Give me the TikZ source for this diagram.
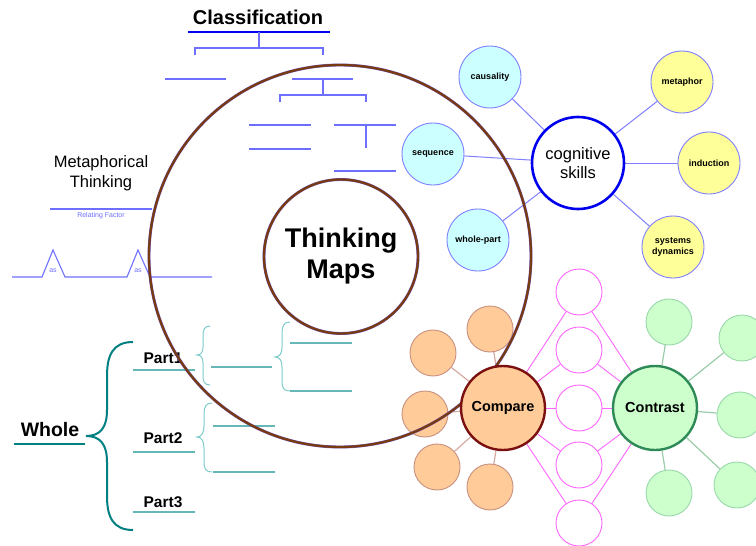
\documentclass[tikz,border=0pt]{standalone}
\usepackage{fontspec}
\setmainfont{Liberation Sans}
\definecolor{clb}{HTML}{6F6FFF}
\definecolor{clbd}{HTML}{0000EE}
\definecolor{satb}{HTML}{7F7FFF}
\definecolor{cyanf}{HTML}{CCFFFF}
\definecolor{yelf}{HTML}{FFFF99}
\definecolor{ringbr}{HTML}{7A3A10}
\definecolor{ringbl}{HTML}{6A5AC8}
\definecolor{pinkc}{HTML}{FF66FF}
\definecolor{orf}{HTML}{FFCC99}
\definecolor{orb}{HTML}{C89080}
\definecolor{ore}{HTML}{D8AAA4}
\definecolor{cmpb}{HTML}{7A1010}
\definecolor{grf}{HTML}{CCFFCC}
\definecolor{grb}{HTML}{99D8AA}
\definecolor{gre}{HTML}{9CCCAA}
\definecolor{conb}{HTML}{2E8B57}
\definecolor{tealA}{HTML}{008080}
\definecolor{tealB}{HTML}{66B8B8}
\definecolor{tealC}{HTML}{80CCCC}
\pgfdeclarelayer{back}
\pgfdeclarelayer{bg}
\pgfsetlayers{back,bg,main}
\tikzset{
  cl/.style={line width=1.2pt, color=clb},
  ml/.style={line width=1.1pt, color=clb},
  ring/.style={draw=ringbl, line width=0.35pt, double=ringbr, double distance=2.2pt},
  sat/.style={circle, draw=satb, line width=0.9pt, minimum size=62pt, inner sep=0pt, align=center, font=\bfseries\fontsize{9}{11}\selectfont},
  cyansat/.style={sat, fill=cyanf},
  yelsat/.style={sat, fill=yelf},
  cogc/.style={circle, draw=clbd, line width=2.6pt, minimum size=92pt, inner sep=0pt, align=center, fill=white, font=\fontsize{16.5}{19}\selectfont},
  cogedge/.style={line width=1pt, color=satb},
  pinkcirc/.style={circle, draw=pinkc, line width=0.9pt, minimum size=46pt, inner sep=0pt, fill=white},
  pinkedge/.style={line width=0.9pt, color=pinkc},
  orsat/.style={circle, draw=orb, line width=0.9pt, fill=orf, minimum size=46pt, inner sep=0pt},
  grsat/.style={circle, draw=grb, line width=0.9pt, fill=grf, minimum size=46pt, inner sep=0pt},
  oredge/.style={line width=1.2pt, color=ore},
  gredge/.style={line width=1.2pt, color=gre},
  bigc/.style={circle, line width=2.4pt, minimum size=84pt, inner sep=0pt, font=\bfseries\fontsize{14.5}{16}\selectfont},
  partlbl/.style={anchor=base, font=\bfseries\fontsize{15.5}{18}\selectfont},
  partline/.style={line width=1.3pt, color=tealB},
  smallbrace/.style={line width=1pt, color=tealC},
  tinytxt/.style={inner sep=0pt, text=clb, font=\fontsize{7}{8}\selectfont}
}
\begin{document}
\begin{tikzpicture}[x=1pt,y=-1pt]
\begin{pgfonlayer}{back}
\fill[white] (0,0) rectangle (756,546);
\end{pgfonlayer}
\useasboundingbox (0,0) rectangle (756,546);

% ---------- Classification ----------
\node[font=\bfseries\fontsize{20}{22}\selectfont] (cls) at (258,17) {Classification};
\draw[line width=2.6pt, color=clbd] (188,32) -- (330,32);
\draw[cl] (259,32) -- (259,48) (195,55) -- (195,48) -- (323,48) -- (323,55);
\draw[cl] (165,79) -- (226,79) (292,79) -- (353,79) (323,79) -- (323,95)
          (280,102) -- (280,95) -- (366,95) -- (366,102);
\draw[cl] (249,125) -- (311,125) (334,125) -- (396,125) (249,149) -- (311,149)
          (366,125) -- (366,148) (334,171) -- (396,171);

% ---------- Metaphorical Thinking ----------
\node[anchor=base, font=\fontsize{16.5}{20}\selectfont] (mt1) at (101,167) {Metaphorical};
\node[anchor=base, font=\fontsize{16.5}{20}\selectfont] (mt2) at (101,187) {Thinking};
\draw[ml] (50,209) -- (152,209);
\node[tinytxt] (rf) at (101,215.5) {Relating Factor};
\draw[ml] (12,277) -- (42,277) -- (53,250) -- (65,277) -- (127,277) -- (138,250) -- (150,277) -- (212,277);
\node[tinytxt] (as1) at (53,271) {as};
\node[tinytxt] (as2) at (138,271) {as};

% ---------- Whole / Parts ----------
\node[anchor=base, font=\bfseries\fontsize{19.5}{22}\selectfont] (wh) at (50,436) {Whole};
\draw[line width=2.2pt, color=tealA] (14,444) -- (85,444);
\draw[line width=2pt, color=tealA]
  (133,342) .. controls (113,342) and (107,355) .. (107,376) -- (107,410)
  .. controls (107,428) and (100,436) .. (86,436)
  .. controls (100,436) and (107,444) .. (107,462) -- (107,496)
  .. controls (107,517) and (113,530) .. (133,530);
\node[partlbl] (p1) at (163,363) {Part1};
\node[partlbl] (p2) at (163,443) {Part2};
\node[partlbl] (p3) at (163,507) {Part3};
\draw[partline] (133,370) -- (195,370) (133,452) -- (195,452) (133,512) -- (195,512);
% small braces
\draw[smallbrace]
  (210,326) .. controls (204,326) and (203,330) .. (203,337) -- (203,347)
  .. controls (203,352) and (201,355) .. (197,355)
  .. controls (201,355) and (203,358) .. (203,363) -- (203,375)
  .. controls (203,381) and (204,385) .. (210,385);
\draw[partline] (211,367) -- (272,367);
\draw[smallbrace]
  (290,322) .. controls (284,322) and (282,326) .. (282,333) -- (282,347)
  .. controls (282,353) and (280,357) .. (275,357)
  .. controls (280,357) and (282,361) .. (282,367) -- (282,382)
  .. controls (282,388) and (284,391) .. (290,391);
\draw[partline] (290,343) -- (352,343) (290,391) -- (352,391);
\draw[smallbrace]
  (212,403) .. controls (206,403) and (204,407) .. (204,414) -- (204,426)
  .. controls (204,432) and (202,437) .. (197,437)
  .. controls (202,437) and (204,442) .. (204,448) -- (204,462)
  .. controls (204,469) and (206,472) .. (212,472);
\draw[partline] (213,426) -- (275,426) (213,472) -- (275,472);

% ---------- cognitive skills ----------
\node[cogc] (cog) at (578,163) {cognitive\\skills};
\node[cyansat] (cau) at (490,77) {causality};
\node[cyansat] (seq) at (433,154) {sequence};
\node[cyansat] (wp) at (478,240) {whole-part};
\node[yelsat] (met) at (682,82) {metaphor};
\node[yelsat] (ind) at (709,163) {induction};
\node[yelsat] (sys) at (673,247) {systems\\dynamics};
\begin{pgfonlayer}{bg}
\foreach \s in {cau,seq,wp,met,ind,sys} \draw[cogedge] (cog) -- (\s);
\end{pgfonlayer}

% ---------- Compare / Contrast satellites ----------
\node[orsat] (o1) at (490,329) {};
\node[orsat] (o2) at (433,353) {};
\node[orsat] (o3) at (425,414) {};
\node[orsat] (o4) at (437,467) {};
\node[orsat] (o5) at (490,487) {};
\node[grsat] (g1) at (669,322) {};
\node[grsat] (g2) at (742,338) {};
\node[grsat] (g3) at (740,415) {};
\node[grsat] (g4) at (737,485) {};
\node[grsat] (g5) at (669,493) {};
\node[pinkcirc] (k1) at (579,292) {};
\node[pinkcirc] (k2) at (579,350) {};
\node[pinkcirc] (k3) at (579,408) {};
\node[pinkcirc] (k4) at (579,465) {};
\node[pinkcirc] (k5) at (579,523) {};

% ---------- Big rings ----------
\draw[ring] (340,256) circle (191);
\node[circle, ring, minimum size=154pt, inner sep=0pt, align=center,
      font=\bfseries\fontsize{27}{31}\selectfont] (tm) at (341,256.5) {Thinking\\Maps};

% ---------- Compare / Contrast ----------
\node[bigc, draw=cmpb, fill=orf] (cmp) at (503,408) {Compare};
\node[bigc, draw=conb, fill=grf] (con) at (655,408) {Contrast};
\begin{pgfonlayer}{bg}
\foreach \s in {o1,o2,o3,o4,o5} \draw[oredge] (cmp) -- (\s);
\foreach \s in {g1,g2,g3,g4,g5} \draw[gredge] (con) -- (\s);
\foreach \s in {k1,k2,k3,k4,k5} {\draw[pinkedge] (cmp) -- (\s); \draw[pinkedge] (con) -- (\s);}
\end{pgfonlayer}
\end{tikzpicture}
\end{document}
